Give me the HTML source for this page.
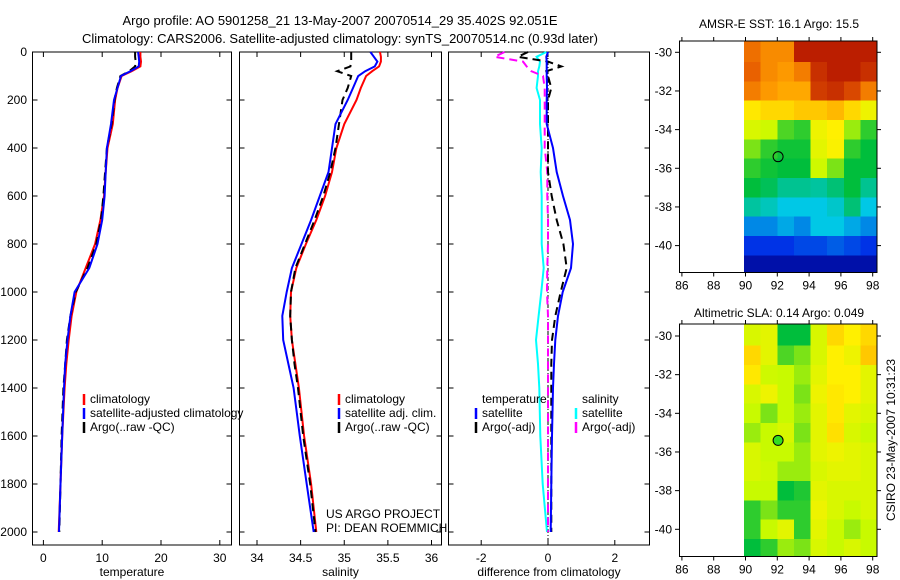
<!DOCTYPE html>
<html><head><meta charset="utf-8">
<style>
body{margin:0;background:#fff;}
svg{display:block;font-family:"Liberation Sans",sans-serif;}
text{font-size:12px;fill:#000;}
</style></head>
<body>
<svg id="fig" width="900" height="580" viewBox="0 0 900 580" xmlns="http://www.w3.org/2000/svg">
<text x="340" y="25" text-anchor="middle" style="font-size:13px">Argo profile: AO 5901258_21 13-May-2007 20070514_29 35.402S 92.051E</text>
<text x="340" y="43" text-anchor="middle" style="font-size:13px">Climatology: CARS2006. Satellite-adjusted climatology: synTS_20070514.nc (0.93d later)</text>
<text x="779" y="28" text-anchor="middle">AMSR-E SST: 16.1 Argo: 15.5</text>
<text x="779" y="317" text-anchor="middle">Altimetric SLA: 0.14 Argo: 0.049</text>
<text transform="translate(895,440) rotate(-90)" text-anchor="middle">CSIRO 23-May-2007 10:31:23</text>
<g id="plots"></g>
</svg>
<script>
// ---- profile data ----
const depths   = [0,20,40,60,80,100,150,200,300,400,500,600,700,800,900,1000,1100,1200,1300,1400,1600,1800,2000];
const tempClim = [16.5,16.5,16.6,16.5,15.0,13.3,12.6,12.2,11.8,10.9,10.6,10.3,9.7,8.8,7.2,5.6,4.8,4.3,3.9,3.6,3.2,2.9,2.6];
const tempSat  = [16.1,16.2,16.3,16.2,14.8,13.2,12.6,12.0,11.5,10.8,10.6,10.4,10.0,9.2,7.8,5.3,4.6,4.1,3.7,3.5,3.2,2.9,2.65];
const tempArgo = [15.6,15.6,15.7,15.6,14.6,13.1,12.5,12.1,11.6,10.8,10.5,10.2,9.8,9.0,7.5,5.5,4.6,4.0,3.7,3.4,3.1,2.9,2.7];
const salClim  = [35.41,35.42,35.42,35.40,35.32,35.25,35.19,35.14,35.0,34.91,34.86,34.78,34.68,34.56,34.45,34.39,34.38,34.40,34.44,34.48,34.54,34.62,34.68];
const salSat   = [35.30,35.34,35.38,35.35,35.24,35.16,35.10,35.04,34.90,34.86,34.82,34.72,34.62,34.51,34.40,34.34,34.29,34.30,34.36,34.42,34.49,34.57,34.65];
const salArgo  = [35.08,35.08,35.08,35.07,34.92,35.08,35.04,34.98,34.94,34.90,34.84,34.76,34.66,34.55,34.44,34.39,34.38,34.40,34.43,34.47,34.53,34.61,34.67];
const dTempSat = [0,-0.05,-0.04,-0.04,-0.04,-0.04,-0.03,-0.04,-0.04,0.15,0.26,0.45,0.66,0.75,0.69,0.44,0.30,0.22,0.18,0.15,0.12,0.10,0.08];
const dTempArgo= [-0.6,-0.9,0.0,0.4,-0.05,0.0,0.1,0.0,0.0,0.0,0.0,0.11,0.26,0.46,0.56,0.38,0.22,0.12,0.1,0.1,0.1,0.1,0.1];
const dSalSat  = [-0.05,-0.34,-0.24,-0.26,-0.3,-0.3,-0.34,-0.24,-0.24,-0.19,-0.22,-0.19,-0.19,-0.19,-0.13,-0.2,-0.28,-0.36,-0.3,-0.26,-0.23,-0.16,-0.03];
const dSalArgo = [-1.3,-1.6,-0.75,-0.64,-0.5,-0.15,-0.1,-0.1,-0.1,-0.1,-0.02,-0.02,0,0,-0.02,-0.03,0,0,0,0,0,0,0];
const tempTicks = [0,10,20,30];
const salTicks = [34,34.5,35,35.5,36];
const salTickLabels = ["34","34.5","35","35.5","36"];
const diffTicks = [-2,0,2];
const depthTicks = [0,200,400,600,800,1000,1200,1400,1600,1800,2000];
// ---- map data (normalised colour index 0..1), rows lat -30..-41, cols lon 90..97 ----
const sstGrid = [
[0.82,0.78,0.78,0.95,0.95,0.95,0.95,0.95],
[0.84,0.78,0.76,0.8,0.92,0.95,0.95,0.92],
[0.8,0.76,0.74,0.74,0.9,0.92,0.88,0.8],
[0.66,0.68,0.68,0.7,0.7,0.72,0.68,0.62],
[0.58,0.56,0.47,0.45,0.62,0.65,0.52,0.45],
[0.5,0.45,0.43,0.43,0.6,0.64,0.45,0.42],
[0.45,0.43,0.42,0.42,0.56,0.5,0.42,0.42],
[0.42,0.4,0.36,0.36,0.35,0.38,0.42,0.36],
[0.35,0.33,0.3,0.3,0.3,0.32,0.38,0.3],
[0.24,0.24,0.27,0.24,0.3,0.3,0.27,0.24],
[0.16,0.16,0.16,0.18,0.18,0.2,0.18,0.16],
[0.06,0.06,0.06,0.06,0.06,0.06,0.06,0.06]];
const slaGrid = [
[0.58,0.6,0.42,0.42,0.58,0.68,0.65,0.68],
[0.68,0.6,0.47,0.5,0.58,0.65,0.62,0.7],
[0.66,0.56,0.55,0.52,0.6,0.65,0.65,0.6],
[0.58,0.62,0.55,0.5,0.62,0.66,0.65,0.6],
[0.55,0.5,0.55,0.52,0.6,0.66,0.6,0.58],
[0.52,0.55,0.58,0.5,0.6,0.67,0.58,0.55],
[0.58,0.55,0.55,0.52,0.6,0.62,0.6,0.58],
[0.58,0.56,0.52,0.52,0.58,0.6,0.6,0.58],
[0.55,0.55,0.42,0.44,0.6,0.58,0.58,0.58],
[0.45,0.5,0.45,0.45,0.62,0.58,0.55,0.58],
[0.45,0.55,0.6,0.45,0.6,0.55,0.52,0.55],
[0.42,0.45,0.52,0.5,0.58,0.55,0.58,0.55]];
const lonTicks = [86,88,90,92,94,96,98];
const latTicks = [-30,-32,-34,-36,-38,-40];
const argoLon = 92.05, argoLat = -35.4;

const NS="http://www.w3.org/2000/svg";
const root=document.getElementById('plots');
function mk(tag,attrs,parent){const e=document.createElementNS(NS,tag);for(const k in attrs)e.setAttribute(k,attrs[k]);(parent||root).appendChild(e);return e;}
function txt(x,y,s,anchor,parent){const t=mk('text',{x:x,y:y,'text-anchor':anchor||'start'},parent);t.textContent=s;return t;}
const yD=d=>52+0.24*d;

function panel(name,x0,x1,xs,ticks,labels,xlabel,showDepth){
  const g=mk('g',{});
  
  
  const r=mk('rect',{x:x0,y:52,width:x1-x0,height:493,fill:'none',stroke:'#000','stroke-width':1},g);
  
  
  ticks.forEach((v,i)=>{const x=xs(v);
    mk('line',{x1:x,x2:x,y1:545,y2:540,stroke:'#000'},g);
    mk('line',{x1:x,x2:x,y1:52,y2:57,stroke:'#000'},g);
    const t=txt(x,562,labels[i],'middle',g);
    
    });
  depthTicks.forEach(d=>{const y=yD(d);
    mk('line',{x1:x0,x2:x0+5,y1:y,y2:y,stroke:'#000'},g);
    mk('line',{x1:x1,x2:x1-5,y1:y,y2:y,stroke:'#000'},g);
    if(showDepth){const t=txt(27,y+4,String(d),'end',g);
      
      }});
  const xl=txt((x0+x1)/2,576,xlabel,'middle',g);
  
  
  return g;
}
function series(g,name,xs,vals,color,dash,w){
  const pts=depths.map((d,i)=>xs(vals[i]).toFixed(1)+','+yD(d).toFixed(1)).join(' ');
  const p=mk('polyline',{points:pts,fill:'none',stroke:color,'stroke-width':w||2,'stroke-dasharray':dash||'none'},g);
  
  
}
function legend(g,x,y,items){
  items.forEach((it,i)=>{
    const yy=y+i*14;
    mk('line',{x1:x-6,x2:x-6,y1:yy-9,y2:yy+2,stroke:it[1],'stroke-width':2.5},g);
    const t=txt(x,yy,it[0],'start',g);
    
    
  });
}
// temperature panel
const xT=v=>43.4+5.88*v;
const g1=panel('temperature-panel',32.5,231.5,xT,tempTicks,tempTicks.map(String),'temperature',true);
series(g1,'temp-climatology-line',xT,tempClim,'#ff0000');
series(g1,'temp-argo-line',xT,tempArgo,'#000','8,5');
series(g1,'temp-satellite-line',xT,tempSat,'#0000ff');
legend(g1,90,403,[['climatology','#f00'],['satellite-adjusted climatology','#00f'],['Argo(..raw -QC)','#000']]);
// salinity panel
const xS=v=>257+87.25*(v-34);
const g2=panel('salinity-panel',239.5,441.5,xS,salTicks,salTickLabels,'salinity',false);
series(g2,'sal-climatology-line',xS,salClim,'#ff0000');
series(g2,'sal-argo-line',xS,salArgo,'#000','8,5');
series(g2,'sal-satellite-line',xS,salSat,'#0000ff');
legend(g2,345,403,[['climatology','#f00'],['satellite adj. clim.','#00f'],['Argo(..raw -QC)','#000']]);
const u1=txt(326,518,'US ARGO PROJECT','start',g2);


const u2=txt(326,532,'PI: DEAN ROEMMICH','start',g2);


// difference panel
const xDf=v=>548+33.4*v;
const g3=panel('difference-panel',448.5,649.5,xDf,diffTicks,diffTicks.map(String),'difference from climatology',false);
const z=mk('line',{x1:xDf(0),x2:xDf(0),y1:52,y2:545,stroke:'#000','stroke-dasharray':'4,2,1,2'},g3);


series(g3,'dsal-satellite-line',xDf,dSalSat,'#00ffff');
series(g3,'dsal-argo-line',xDf,dSalArgo,'#ff00ff','8,5');
series(g3,'dtemp-argo-line',xDf,dTempArgo,'#000','8,5');
series(g3,'dtemp-satellite-line',xDf,dTempSat,'#0000ff');
const lt=txt(482,403,'temperature','start',g3);
const ls=txt(582,403,'salinity','start',g3);
legend(g3,482,417,[['satellite','#00f'],['Argo(-adj)','#000']]);
legend(g3,582,417,[['satellite','#0ff'],['Argo(-adj)','#f0f']]);

// custom colormap
const cmStops=[[0,[0,0,128]],[0.15,[0,40,230]],[0.3,[0,200,230]],[0.42,[0,190,60]],[0.55,[200,250,0]],[0.65,[255,240,0]],[0.75,[255,160,0]],[0.85,[230,90,0]],[1,[165,0,0]]];
function cmap(v){
  for(let i=1;i<cmStops.length;i++){
    if(v<=cmStops[i][0]){const a=cmStops[i-1],b=cmStops[i];const t=(v-a[0])/(b[0]-a[0]);
      const c=a[1].map((x,k)=>Math.round(x+(b[1][k]-x)*t));return `rgb(${c[0]},${c[1]},${c[2]})`;}
  }
  return 'rgb(165,0,0)';
}
function map(name,top,bottom,lat30y,grid,dotFill){
  const g=mk('g',{});
  
  
  const xL=v=>745.5+15.9*(v-90);
  const yL=v=>lat30y+19.33*(-30-v);
  const rows=grid.length, cols=grid[0].length;
  const cw=(877-744)/cols;
  grid.forEach((row,i)=>row.forEach((v,j)=>{
    const yt=i===0?top:yL(-29.5-i), yb=i===rows-1?bottom:yL(-30.5-i);
    const c=mk('rect',{x:744+j*cw,y:yt,width:cw+0.6,height:yb-yt+0.6,fill:cmap(v),'shape-rendering':'crispEdges'},g);
    
    
  }));
  mk('rect',{x:679.5,y:top,width:197.5,height:bottom-top,fill:'none',stroke:'#000'},g);
  lonTicks.forEach(v=>{const x=xL(v);
    mk('line',{x1:x,x2:x,y1:bottom,y2:bottom+4,stroke:'#000'},g);
    mk('line',{x1:x,x2:x,y1:top,y2:top-4,stroke:'#000'},g);
    const t=txt(x,bottom+17,String(v),'middle',g);});
  latTicks.forEach(v=>{const y=yL(v);
    mk('line',{x1:679.5,x2:675,y1:y,y2:y,stroke:'#000'},g);
    mk('line',{x1:877,x2:881,y1:y,y2:y,stroke:'#000'},g);
    const t=txt(672,y+4,String(v),'end',g);});
  const c=mk('circle',{cx:xL(argoLon),cy:yL(argoLat),r:5,fill:dotFill,stroke:'#000'},g);
  
  
}
map('sst-map',41,272.5,52.3,sstGrid,'none');
map('sla-map',324,556.5,336,slaGrid,'#33dd22');
</script>
</body></html>
